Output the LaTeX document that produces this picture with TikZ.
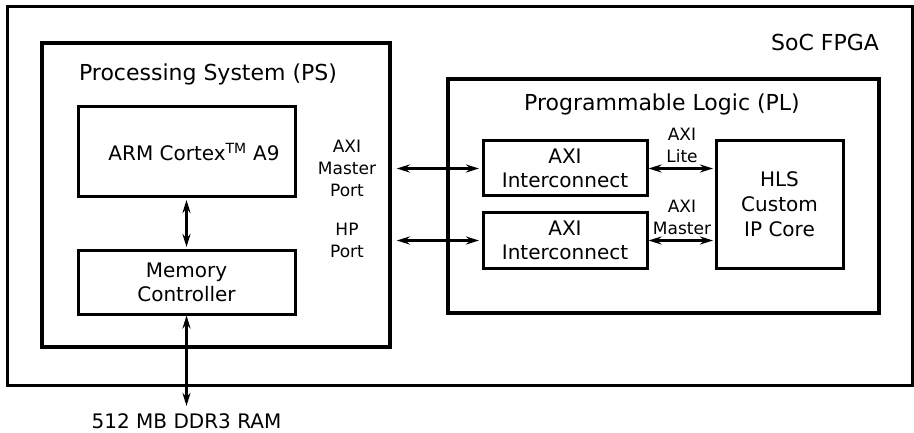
\documentclass[tikz,border=0pt]{standalone}
\usepackage{fontspec}
\setmainfont{DejaVu Sans}
\usetikzlibrary{positioning,arrows.meta}

\begin{document}
\begin{tikzpicture}[
    x=1pt, y=-1pt,
    region/.style={
        rectangle,
        draw,
        line width=3.5pt
    },
    block/.style={
        rectangle,
        draw,
        line width=3pt,
        align=center,
        font=\fontsize{20}{24}\selectfont
    },
    title/.style={font=\fontsize{22}{26}\selectfont},
    port/.style={align=center, font=\fontsize{17}{22}\selectfont},
    link/.style={
        {Stealth[length=13pt,width=8pt]}-{Stealth[length=13pt,width=8pt]},
        line width=2.6pt
    }
]

\useasboundingbox (0,0) rectangle (914,433);

\node[region, line width=3pt, minimum width=905pt, minimum height=378pt] (soc) at (459.5,196) {};
\node[title] (soctitle) at (825,42) {SoC FPGA};

\node[region, minimum width=348pt, minimum height=304pt] (ps) at (216,195) {};
\node[title] (pstitle) at (208,74) {Processing System (PS)};

\node[region, minimum width=431pt, minimum height=234pt] (pl) at (663.5,196) {};
\node[title] (pltitle) at (662,104) {Programmable Logic (PL)};

\node[block, minimum width=217pt, minimum height=90pt] (arm) at (186.5,152)
{\hspace*{15pt}ARM Cortex\textsuperscript{TM} A9};

\node[block, minimum width=217pt, minimum height=63pt] (mem) at (186.5,282.5)
{Memory\\Controller};

\node[block, minimum width=164pt, minimum height=55pt] (axia) at (565,168.5)
{AXI\\Interconnect};

\node[block, minimum width=164pt, minimum height=55pt] (axib) at (565,240.5)
{AXI\\Interconnect};

\node[block, minimum width=127pt, minimum height=127pt,
      font=\fontsize{20}{25}\selectfont] (hls) at (779.5,204.5)
{HLS\\Custom\\IP Core};

\node[font=\fontsize{20}{24}\selectfont] (ram) at (186.5,421) {512 MB DDR3 RAM};

\node[port] (mport) at (347,168) {AXI\\Master\\Port};
\node[port] (hport) at (347,240) {HP\\Port};
\node[port] (lite) at (682,145) {AXI\\Lite};
\node[port] (master) at (682,217) {AXI\\Master};

\draw[link, shorten <=1.5pt, shorten >=2.5pt] (arm) -- (mem);
\draw[link, shorten >=4pt] (mem) -- (ram);
\draw[link, shorten <=5pt, shorten >=2.5pt] (ps.east |- axia.west) -- (axia.west);
\draw[link, shorten <=5pt, shorten >=2.5pt] (ps.east |- axib.west) -- (axib.west);
\draw[link, shorten >=1.5pt] (axia.east) -- (hls.west |- axia.east);
\draw[link, shorten >=1.5pt] (axib.east) -- (hls.west |- axib.east);

\end{tikzpicture}
\end{document}
